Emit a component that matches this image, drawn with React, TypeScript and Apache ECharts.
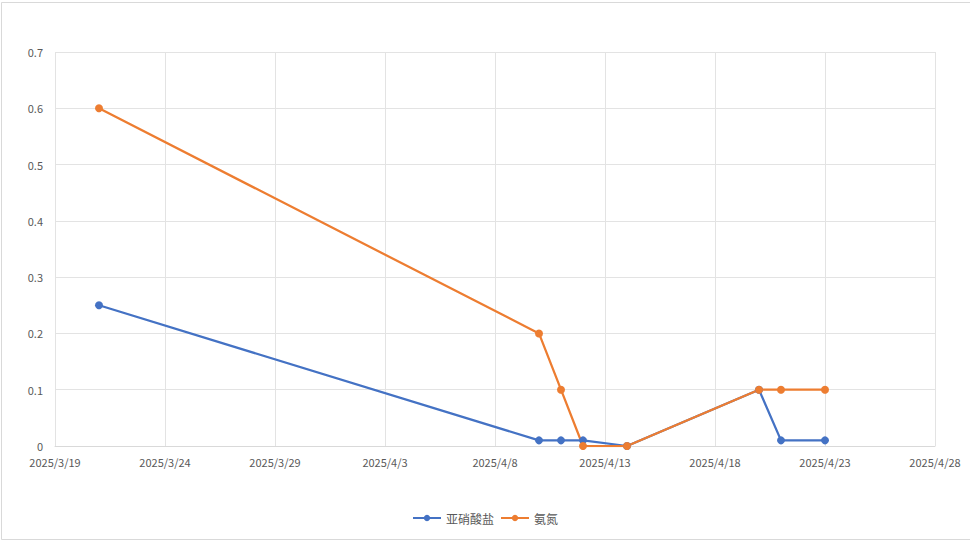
import React, { useEffect, useRef } from 'react';
import * as echarts from 'echarts';

const DAY = 86400000;
const START = Date.UTC(2025, 2, 19);

const dates = ['2025/3/21', '2025/4/10', '2025/4/11', '2025/4/12', '2025/4/14', '2025/4/20', '2025/4/21', '2025/4/23'];
const nitrite = [0.25, 0.01, 0.01, 0.01, 0, 0.1, 0.01, 0.01];
const ammonia = [0.6, 0.2, 0.1, 0, 0, 0.1, 0.1, 0.1];
const seriesNames = ['亚硝酸盐', '氨氮'];

const toDay = (s: string) => {
  const [y, m, d] = s.split('/').map(Number);
  return (Date.UTC(y, m - 1, d) - START) / DAY;
};

const dayLabel = (v: number) => {
  const d = new Date(START + v * DAY);
  return `${d.getUTCFullYear()}/${d.getUTCMonth() + 1}/${d.getUTCDate()}`;
};

const App: React.FC = () => {
  const chartRef = useRef<HTMLDivElement>(null);

  useEffect(() => {
    if (!chartRef.current) return;
    const chart = echarts.init(chartRef.current, undefined, { renderer: 'svg' });
    const font = '"Noto Sans CJK SC", "Noto Sans", sans-serif';

    const option: echarts.EChartsOption = {
      animation: false,
      backgroundColor: '#ffffff',
      textStyle: { fontFamily: font },
      graphic: [
        {
          type: 'rect',
          shape: { x: 1.5, y: 2.5, width: 990, height: 537 },
          style: { fill: 'none', stroke: '#d9d9d9', lineWidth: 1 },
          silent: true,
        },
      ],
      grid: { left: 55, right: 35, top: 52, bottom: 97 },
      legend: {
        bottom: 14,
        left: 'center',
        itemWidth: 28,
        itemHeight: 8,
        itemGap: 6,
        data: seriesNames,
        textStyle: { color: '#595959', fontSize: 12, fontFamily: font },
      },
      xAxis: {
        type: 'value',
        min: 0,
        max: 40,
        interval: 5,
        axisLine: { show: true, lineStyle: { color: '#d9d9d9' } },
        axisTick: { show: false },
        axisLabel: {
          formatter: (v: number) => dayLabel(v),
          color: '#595959',
          fontSize: 11,
          margin: 10,
          fontFamily: font,
        },
        splitLine: { show: true, lineStyle: { color: '#e3e3e3' } },
      },
      yAxis: {
        type: 'value',
        min: 0,
        max: 0.7,
        interval: 0.1,
        axisLine: { show: false },
        axisTick: { show: false },
        axisLabel: { color: '#595959', fontSize: 11, margin: 12, fontFamily: font },
        splitLine: { show: true, lineStyle: { color: '#e3e3e3' } },
      },
      series: [
        {
          name: seriesNames[0],
          type: 'line',
          data: dates.map((d, i) => [toDay(d), nitrite[i]]),
          symbol: 'circle',
          symbolSize: 8,
          lineStyle: { width: 2.25, color: '#4472C4' },
          itemStyle: { color: '#4472C4' },
        },
        {
          name: seriesNames[1],
          type: 'line',
          data: dates.map((d, i) => [toDay(d), ammonia[i]]),
          symbol: 'circle',
          symbolSize: 8,
          lineStyle: { width: 2.25, color: '#ED7D31' },
          itemStyle: { color: '#ED7D31' },
        },
      ],
    };

    chart.setOption(option);
    return () => {
      chart.dispose();
    };
  }, []);

  return (
    <div style={{ position: 'absolute', left: 0, top: 0 }}>
      <div ref={chartRef} style={{ width: '970px', height: '543px' }} />
    </div>
  );
};

export default App;
